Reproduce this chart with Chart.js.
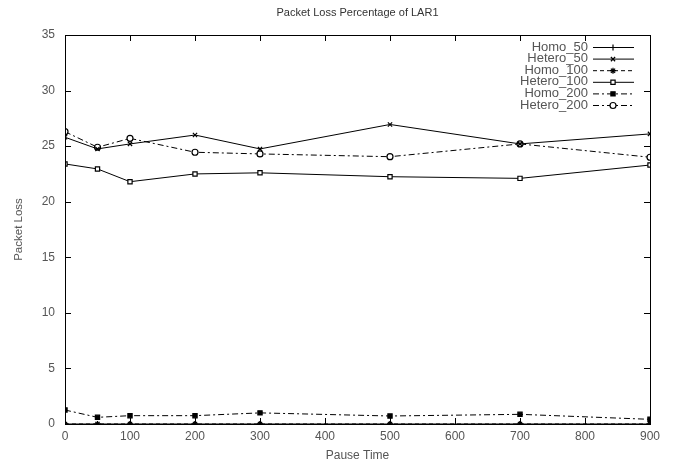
<!DOCTYPE html>
<html><head><meta charset="utf-8">
<script src="https://cdn.jsdelivr.net/npm/chart.js@4/dist/chart.umd.min.js"></script>
<style>html,body{margin:0;padding:0;background:#fff}#wrap{width:676px;height:463px}</style>
</head><body><div id="wrap"><canvas id="c" width="676" height="463"></canvas></div>
<script>
const pauseTimes = [0, 50, 100, 200, 300, 500, 700, 900];
const homo50 = [0, 0, 0, 0, 0, 0, 0, 0];
const hetero50 = [25.8, 24.75, 25.2, 26.0, 24.75, 26.95, 25.2, 26.1];
const homo100 = [0, 0, 0, 0, 0, 0, 0, 0];
const hetero100 = [23.4, 22.95, 21.8, 22.5, 22.6, 22.25, 22.1, 23.3];
const homo200 = [1.26, 0.6, 0.75, 0.75, 1.0, 0.72, 0.87, 0.42];
const hetero200 = [26.3, 24.9, 25.7, 24.45, 24.3, 24.05, 25.2, 24.0];
const xTicks = [0, 100, 200, 300, 400, 500, 600, 700, 800, 900];
const yTicks = [0, 5, 10, 15, 20, 25, 30, 35];
const chartTitle = 'Packet Loss Percentage of LAR1';

function pts(vals){ return pauseTimes.map((x,i)=>({x:x, y:vals[i]})); }
const TXT = '#555';
const FONT = '"Liberation Sans", Arial, sans-serif';
function ds(label, vals, style, dash, fill){
  return {label, data: pts(vals), borderColor:'#000', borderWidth:1, borderDash:dash,
    pointStyle:style, pointRadius:3, pointBorderColor:'#000', pointBorderWidth:1.2,
    pointBackgroundColor: fill, tension:0, fill:false};
}
const datasets = [
  ds('Homo_50', homo50, 'cross', [], '#000'),
  ds('Hetero_50', hetero50, 'crossRot', [], '#000'),
  ds('Homo_100', homo100, 'star', [4,3], '#000'),
  ds('Hetero_100', hetero100, 'rect', [], '#fff'),
  ds('Homo_200', homo200, 'rect', [6,3,2,3], '#000'),
  ds('Hetero_200', hetero200, 'circle', [6,3,2,3], '#fff')
];

const framePlugin = {
  id:'frame',
  afterDraw(chart){
    const {ctx, chartArea:a, scales} = chart;
    ctx.save();
    ctx.strokeStyle='#000'; ctx.lineWidth=1;
    ctx.strokeRect(Math.round(a.left)+0.5, Math.round(a.top)+0.5, Math.round(a.right-a.left), Math.round(a.bottom-a.top));
    const L=6;
    ctx.beginPath();
    xTicks.forEach(v=>{ const x=Math.round(scales.x.getPixelForValue(v))+0.5;
      ctx.moveTo(x,a.bottom); ctx.lineTo(x,a.bottom-L);
      ctx.moveTo(x,a.top); ctx.lineTo(x,a.top+L); });
    yTicks.forEach(v=>{ const y=Math.round(scales.y.getPixelForValue(v))+0.5;
      ctx.moveTo(a.left,y); ctx.lineTo(a.left+L,y);
      ctx.moveTo(a.right,y); ctx.lineTo(a.right-L,y); });
    ctx.stroke();
    // title centered over plot area
    ctx.font='11px '+FONT; ctx.fillStyle='#333';
    ctx.textAlign='center'; ctx.textBaseline='middle';
    ctx.fillText(chartTitle, (a.left+a.right)/2, 13);
    // legend
    ctx.font='13px '+FONT;
    ctx.textAlign='right'; ctx.textBaseline='middle';
    chart.data.datasets.forEach((d,i)=>{
      const y = 47 + i*11.6;
      ctx.fillStyle=TXT; ctx.fillText(d.label, 588, y);
      ctx.strokeStyle='#000'; ctx.lineWidth=1; ctx.setLineDash(d.borderDash);
      ctx.beginPath(); ctx.moveTo(593, y+0.5); ctx.lineTo(634, y+0.5); ctx.stroke();
      ctx.setLineDash([]);
      ctx.fillStyle=d.pointBackgroundColor; ctx.strokeStyle='#000'; ctx.lineWidth=1.2;
      Chart.helpers.drawPoint(ctx, {pointStyle:d.pointStyle, radius:3, rotation:0, borderWidth:1.2}, 613, y+0.5);
    });
    ctx.restore();
  }
};

new Chart(document.getElementById('c'), {
  type:'line',
  data:{datasets},
  options:{
    responsive:false, animation:false, devicePixelRatio:1,
    layout:{padding:{top:35,right:26,left:0,bottom:0}},
    plugins:{ legend:{display:false}, tooltip:{enabled:false}, title:{display:false} },
    scales:{
      x:{type:'linear', min:0, max:900,
        afterBuildTicks(s){ s.ticks = xTicks.map(v=>({value:v})); },
        afterFit(s){ s.height = 39; },
        grid:{display:false, drawTicks:false}, border:{display:false},
        ticks:{color:TXT, padding:5, font:{family:FONT, size:12}, maxRotation:0},
        title:{display:true, text:'Pause Time', color:TXT, padding:{top:0,bottom:0},
          font:{family:FONT, size:12}}},
      y:{type:'linear', min:0, max:35,
        afterBuildTicks(s){ s.ticks = yTicks.map(v=>({value:v})); },
        afterFit(s){ s.width = 65; },
        grid:{display:false, drawTicks:false}, border:{display:false},
        ticks:{color:TXT, padding:10, font:{family:FONT, size:12}},
        title:{display:true, text:'Packet Loss', color:TXT, padding:{top:12,bottom:0},
          font:{family:FONT, size:11.5}}}
    }
  },
  plugins:[framePlugin]
});
</script></body></html>
